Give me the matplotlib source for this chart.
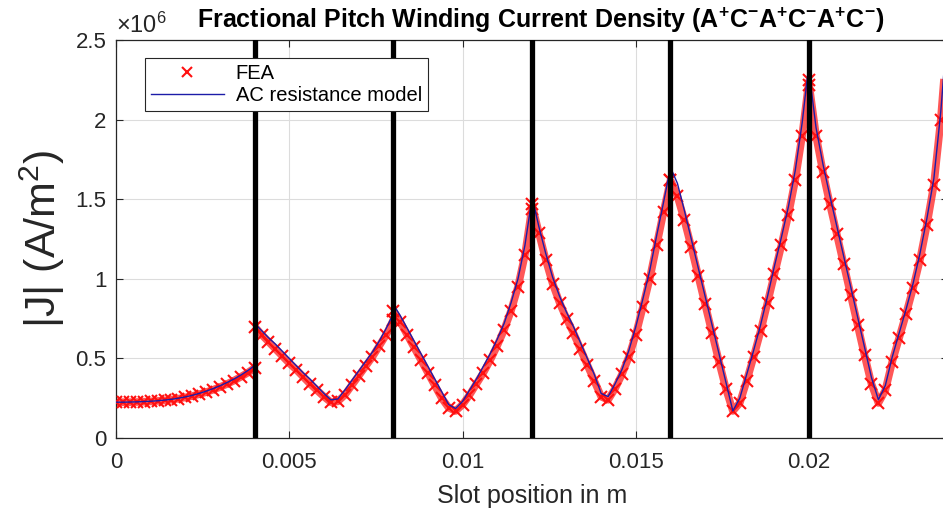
import numpy as np
import matplotlib
matplotlib.use("Agg")
from matplotlib import pyplot as plt

# conductor boundaries in the slot (m)
edges = [0.0, 0.004, 0.008, 0.012, 0.016, 0.020, 0.024]
bars = [0.004, 0.008, 0.012, 0.016, 0.020]

# |J|, x 1e6 A/m^2, every 0.2 mm inside each conductor
model_1 = [0.225, 0.225, 0.226, 0.227, 0.229, 0.231, 0.234, 0.238, 0.243, 0.250, 0.258,
           0.268, 0.280, 0.294, 0.310, 0.328, 0.348, 0.370, 0.395, 0.423, 0.455]
model_2 = [0.72, 0.675, 0.63, 0.59, 0.545, 0.50, 0.455, 0.41, 0.37, 0.325, 0.28,
           0.24, 0.245, 0.30, 0.36, 0.42, 0.48, 0.54, 0.61, 0.69, 0.78]
model_3 = [0.84, 0.77, 0.69, 0.61, 0.53, 0.45, 0.37, 0.29, 0.21, 0.185, 0.23,
           0.30, 0.37, 0.45, 0.53, 0.62, 0.72, 0.85, 1.00, 1.21, 1.50]
model_4 = [1.52, 1.33, 1.16, 1.01, 0.89, 0.79, 0.70, 0.60, 0.50, 0.40, 0.28,
           0.26, 0.34, 0.43, 0.55, 0.70, 0.87, 1.05, 1.27, 1.48, 1.70]
model_5 = [1.70, 1.60, 1.43, 1.25, 1.07, 0.89, 0.71, 0.53, 0.35, 0.17, 0.25,
           0.40, 0.55, 0.71, 0.89, 1.08, 1.26, 1.45, 1.68, 1.98, 2.36]
model_6 = [2.30, 1.95, 1.72, 1.52, 1.33, 1.14, 0.95, 0.76, 0.57, 0.38, 0.24,
           0.33, 0.51, 0.66, 0.81, 0.97, 1.16, 1.38, 1.63, 2.05, 2.60]

fea_1 = [0.225, 0.225, 0.225, 0.226, 0.228, 0.230, 0.233, 0.236, 0.241, 0.247, 0.255,
         0.264, 0.275, 0.288, 0.303, 0.320, 0.339, 0.360, 0.384, 0.410, 0.44]
fea_2 = [0.70, 0.65, 0.605, 0.56, 0.515, 0.47, 0.43, 0.385, 0.34, 0.30, 0.26,
         0.225, 0.23, 0.27, 0.33, 0.39, 0.45, 0.51, 0.58, 0.65, 0.74]
fea_3 = [0.80, 0.73, 0.65, 0.57, 0.49, 0.41, 0.33, 0.25, 0.19, 0.17, 0.21,
         0.27, 0.34, 0.41, 0.49, 0.58, 0.68, 0.80, 0.95, 1.15, 1.44]
fea_4 = [1.47, 1.29, 1.12, 0.97, 0.85, 0.75, 0.66, 0.56, 0.46, 0.36, 0.26,
         0.24, 0.31, 0.40, 0.51, 0.65, 0.82, 1.00, 1.21, 1.42, 1.62]
fea_5 = [1.62, 1.52, 1.37, 1.20, 1.02, 0.84, 0.66, 0.48, 0.31, 0.17, 0.22,
         0.36, 0.51, 0.67, 0.85, 1.03, 1.21, 1.40, 1.62, 1.90, 2.25]
fea_6 = [2.22, 1.90, 1.67, 1.47, 1.28, 1.09, 0.90, 0.71, 0.52, 0.34, 0.22,
         0.30, 0.48, 0.63, 0.78, 0.94, 1.12, 1.34, 1.59, 2.00, 2.55]

model = [model_1, model_2, model_3, model_4, model_5, model_6]
fea = [fea_1, fea_2, fea_3, fea_4, fea_5, fea_6]

plt.rcParams["font.family"] = ["Liberation Sans", "DejaVu Sans"]
plt.rcParams["mathtext.default"] = "regular"

fig = plt.figure(figsize=(9.43, 5.15), dpi=100)
ax = fig.add_axes([0.123, 0.1495, 0.882, 0.7728])

red = "#ff1010"
blue = "#1c1ca8"
for i in range(6):
    x = np.linspace(edges[i], edges[i + 1], 21)
    yf = np.array(fea[i]) * 1e6
    ym = np.array(model[i]) * 1e6
    ax.plot(x, yf, "-", color=red, lw=5.5, alpha=0.7, zorder=2,
            solid_capstyle="butt")
    ax.plot(x, yf, "x", color=red, ms=9, mew=1.5, zorder=3,
            label="FEA" if i == 0 else None)
    ax.plot(x, ym, "-", color=blue, lw=1.0, zorder=4,
            label="AC resistance model" if i == 0 else None)

for b in bars:
    ax.axvline(b, color="black", lw=3.8, zorder=5)

ax.set_xlim(0, 0.024)
ax.set_ylim(0, 2.5e6)
ax.set_xticks([0, 0.005, 0.01, 0.015, 0.02])
ax.set_xticklabels(["0", "0.005", "0.01", "0.015", "0.02"])
ax.set_yticks([0, 0.5e6, 1e6, 1.5e6, 2e6, 2.5e6])
ax.set_yticklabels(["0", "0.5", "1", "1.5", "2", "2.5"])
ax.tick_params(axis="x", pad=10)
ax.tick_params(direction="in", top=True, right=True, labelsize=16, length=5,
               color="#262626", labelcolor="#262626")
ax.tick_params(axis="y", pad=7)
ax.grid(True, color="#dcdcdc", lw=0.8)
ax.set_axisbelow(True)
for s in ax.spines.values():
    s.set_color("#262626")
    s.set_linewidth(0.9)

ax.text(0.0, 1.005, r"$\times10^{6}$", transform=ax.transAxes, fontsize=17,
        color="#262626", ha="left", va="bottom")
ax.set_title(r"Fractional Pitch Winding Current Density (A$^{+}$C$^{-}$A$^{+}$C$^{-}$A$^{+}$C$^{-}$)",
             fontsize=18, fontweight="bold", pad=9, x=0.51)
ax.set_xlabel("Slot position in m", fontsize=18, color="#262626", labelpad=8)
ax.set_ylabel("|J| (A/m$^{2}$)", fontsize=31, color="#262626", labelpad=6)

leg = ax.legend(loc="upper left", bbox_to_anchor=(0.035, 0.955), fontsize=14.5,
                frameon=True, fancybox=False, edgecolor="#262626", framealpha=1,
                borderpad=0.3, borderaxespad=0, handlelength=3.6,
                handletextpad=0.6, labelspacing=0.15, markerscale=0.8)
leg.get_frame().set_linewidth(0.8)

fig.savefig("out.png", dpi=100)
